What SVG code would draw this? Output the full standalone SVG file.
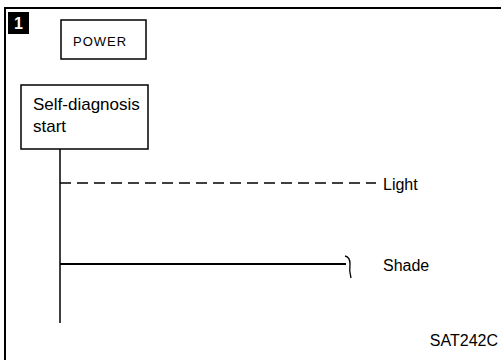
<svg xmlns="http://www.w3.org/2000/svg" width="501" height="360" viewBox="0 0 501 360">
<style>
text{font-family:"Liberation Sans",Arial,sans-serif;fill:#000}
.box{fill:#fff;stroke:#000;stroke-width:1.5}
.ln{stroke:#000;fill:none}
</style>
<rect width="501" height="360" fill="#fff"/>
<g id="frame">
<line x1="5" y1="8" x2="501" y2="8" class="ln" stroke-width="2"/>
<line x1="5" y1="7" x2="5" y2="360" class="ln" stroke-width="2"/>
<rect x="8" y="12" width="21" height="22" fill="#000"/>
<text x="18.5" y="29" font-size="16" font-weight="bold" text-anchor="middle" style="fill:#fff">1</text>
</g>
<g id="power">
<rect x="61" y="20" width="85" height="39" class="box"/>
<text x="73" y="46" font-size="13" letter-spacing="1">POWER</text>
</g>
<g id="selfdiag">
<rect x="21" y="85" width="127" height="64" class="box"/>
<text x="33" y="110" font-size="17">Self-diagnosis</text>
<text x="33" y="132" font-size="17">start</text>
</g>
<g id="connectors">
<line x1="60" y1="149" x2="60" y2="323" class="ln" stroke-width="1.5"/>
<line x1="60" y1="183" x2="376" y2="183" class="ln" stroke-width="1.3" stroke-dasharray="11,6"/>
<line x1="60" y1="264" x2="346" y2="264" class="ln" stroke-width="2"/>
<path d="M345 256 Q350 257 350 264 Q349 271 351 278" class="ln" stroke-width="1.3"/>
</g>
<g id="labels">
<text x="383" y="190" font-size="16">Light</text>
<text x="383" y="271" font-size="16">Shade</text>
<text x="498" y="346" font-size="16" text-anchor="end">SAT242C</text>
</g>
</svg>
